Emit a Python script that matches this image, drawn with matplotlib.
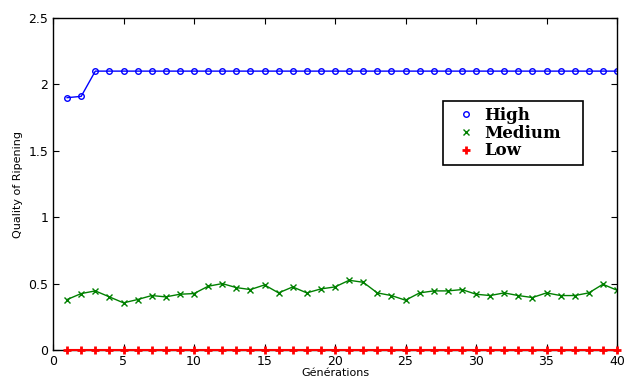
import numpy as np
import matplotlib
matplotlib.use("Agg")
import matplotlib.pyplot as plt
from matplotlib.lines import Line2D

# ======= DATOS =======
generations = list(range(1, 41))
high = [1.90, 1.91] + [2.10] * 38
medium = [0.38, 0.425, 0.445, 0.40, 0.355, 0.38, 0.41, 0.40, 0.42, 0.425,
          0.48, 0.50, 0.47, 0.455, 0.49, 0.43, 0.475, 0.43, 0.46, 0.475,
          0.525, 0.51, 0.43, 0.41, 0.375, 0.43, 0.445, 0.445, 0.455, 0.42,
          0.41, 0.43, 0.41, 0.395, 0.43, 0.41, 0.41, 0.43, 0.495, 0.45]
low = [0.0] * 40
series_names = ["High", "Medium", "Low"]
x_ticks = [0, 5, 10, 15, 20, 25, 30, 35, 40]
y_ticks = [0, 0.5, 1, 1.5, 2, 2.5]
y_tick_labels = ["0", "0.5", "1", "1.5", "2", "2.5"]
# =====================

plt.rcParams["font.family"] = ["Liberation Sans Narrow", "DejaVu Sans"]

fig = plt.figure(figsize=(6.3, 3.9), dpi=100)
ax = fig.add_axes([53/630, 40/390, 564/630, 332/390])

ax.plot(generations, high, color="#0000ff", lw=1, marker="o", ms=4,
        mfc="none", mew=1)
ax.plot(generations, medium, color="#008000", lw=1, marker="x", ms=4,
        mew=1)
ax.plot(generations, low, color="#ff0000", lw=1.5, marker="+", ms=6,
        mew=2, clip_on=False, zorder=5)

ax.set_xlim(0, 40)
ax.set_ylim(0, 2.5)
ax.set_xticks(x_ticks)
ax.set_yticks(y_ticks)
ax.set_yticklabels(y_tick_labels)
ax.tick_params(direction="in", top=True, right=True, labelsize=9, length=4)
for s in ax.spines.values():
    s.set_linewidth(1)
ax.set_xlabel("Générations", fontsize=8, labelpad=0)
ax.set_ylabel("Quality of Ripening", fontsize=8, labelpad=4)

handles = [
    Line2D([], [], ls="none", marker="o", ms=4, mfc="none", mew=1, color="#0000ff"),
    Line2D([], [], ls="none", marker="x", ms=4, mew=1, color="#008000"),
    Line2D([], [], ls="none", marker="+", ms=6, mew=2, color="#ff0000"),
]
leg = ax.legend(handles, series_names, loc="upper left", mode="expand",
                bbox_to_anchor=(390/564, 1 - 83/332 - 0.2, 140/564, 0.2),
                borderaxespad=0,
                prop={"family": "DejaVu Serif", "weight": "bold", "size": 12},
                fancybox=False, edgecolor="black", framealpha=1,
                handlelength=2.0, handletextpad=0.15, borderpad=0.35,
                labelspacing=0.05)
leg.get_frame().set_linewidth(1.2)

fig.savefig("out.png", dpi=100)
